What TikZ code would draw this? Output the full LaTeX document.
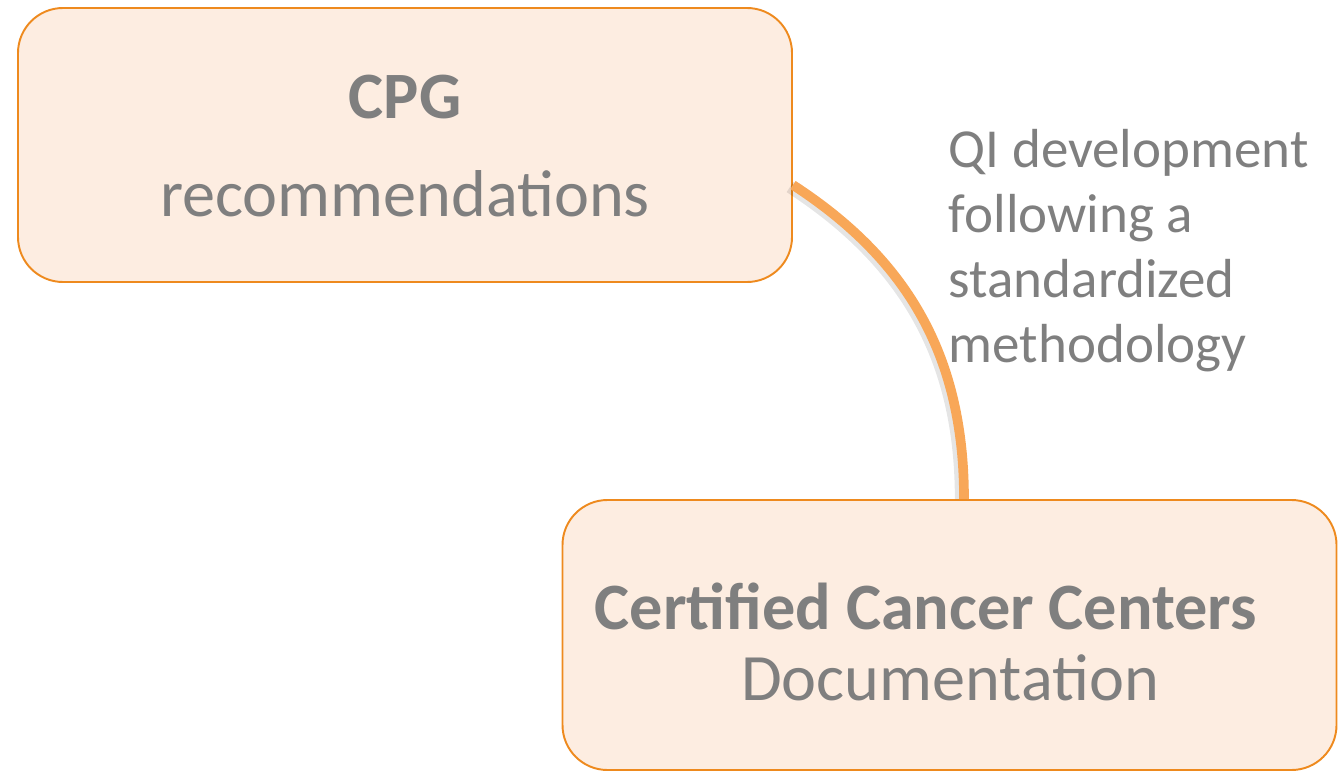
\documentclass[tikz,border=0pt]{standalone}
\usepackage{fontspec}
\setmainfont{Carlito}
\usepackage{tikz}
\definecolor{boxfill}{HTML}{FDEDE1}
\definecolor{boxline}{HTML}{EE8A1E}
\definecolor{arcline}{HTML}{F8A758}
\definecolor{textgray}{HTML}{7F7F7F}

\begin{document}
\begin{tikzpicture}[line width = 1pt,
                        panel/.style = {rectangle, rounded corners = 0.9cm, draw = boxline, line width = 1.1pt, fill = boxfill, minimum width = 15.48cm, minimum height = 5.48cm, inner sep = 0pt},
                        txt/.style = {text = textgray, font = \fontsize{37.7}{37.7}\selectfont, inner sep = 0pt, anchor = base},
                        bold/.style = {txt, font = \fontsize{37.7}{37.7}\selectfont\bfseries},
                        note/.style = {txt, font = \fontsize{31.3}{37}\selectfont, anchor = north west, align = left}]
    \useasboundingbox (0, 0) rectangle (26.76, -15.42);
    \node [panel] (cpg) at (8.1, -2.9){};
    \node [panel, minimum height = 5.4cm] (ccc) at (18.99, -12.7){};
    \node [bold] (cpgtitle) at (8.1, -2.38){CPG};
    \node [txt] (cpgsub) at (8.1, -4.34){recommendations};
    \node [bold] (ccctitle) at (18.52, -12.58){Certified Cancer Centers};
    \node [txt] (cccsub) at (19.0, -14.0){Documentation};
    \node [note] (qi) at (18.96, -2.57){QI development\\following a\\standardized\\methodology};
    % curved link with soft shadow
    \draw [line width = 7pt, black, opacity = 0.1] ([xshift = -0.06cm, yshift = -0.84cm]cpg.east) to[out = -33, in = 90] ([xshift = 0.23cm]ccc.north);
    \draw [line width = 5.5pt, arcline] ([yshift = -0.8cm]cpg.east) to[out = -33, in = 90] ([xshift = 0.29cm]ccc.north);
  \end{tikzpicture}
\end{document}
